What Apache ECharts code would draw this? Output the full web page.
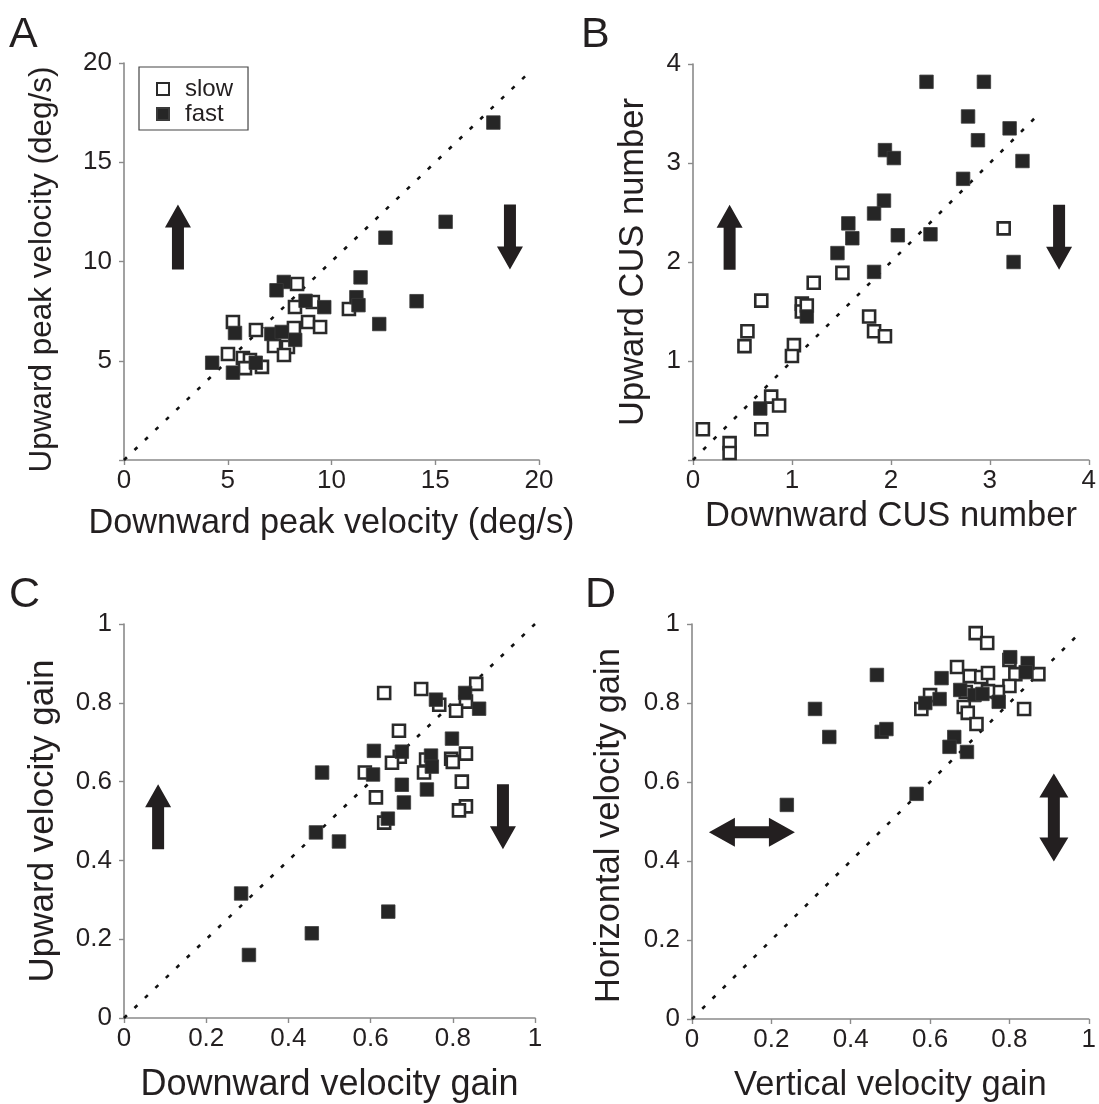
<!DOCTYPE html>
<html>
<head>
<meta charset="utf-8">
<script src="https://cdn.jsdelivr.net/npm/echarts@6/dist/echarts.min.js"></script>
<style>
html,body{margin:0;padding:0;background:#fff;}
#c{width:1099px;height:1104px;}
</style>
</head>
<body>
<div id="c"></div>
<script>
// ---------- DATA ----------
const aSlow = [[8.34,8.87],[9.1,7.96],[8.24,7.71],[10.84,7.61],[8.87,6.95],[9.45,6.70],[5.25,6.95],[6.36,6.55],[8.19,6.65],[7.23,5.74],[7.9,5.69],[7.71,5.29],[5.01,5.34],[5.73,5.14],[6.07,5.04],[5.83,4.63],[6.65,4.69]];
const aFast = [[17.8,17.0],[15.5,12.0],[12.6,11.2],[11.4,9.2],[14.1,8.0],[11.2,8.2],[11.3,7.8],[12.3,6.85],[9.65,7.7],[8.75,8.02],[7.7,8.97],[7.35,8.55],[7.1,6.35],[7.6,6.45],[8.25,6.05],[5.35,6.4],[4.25,4.9],[5.25,4.4],[6.35,4.9]];
const bSlow = [[0.10,0.31],[0.37,0.17],[0.37,0.07],[0.69,0.31],[0.79,0.64],[0.87,0.55],[1.02,1.16],[1.0,1.05],[0.52,1.15],[0.55,1.30],[0.69,1.61],[1.10,1.58],[1.10,1.50],[1.15,1.56],[1.22,1.79],[1.51,1.89],[1.78,1.45],[1.83,1.30],[1.94,1.25],[3.14,2.34]];
const bFast = [[0.68,0.52],[1.15,1.45],[1.83,1.90],[2.36,3.82],[2.94,3.82],[2.78,3.47],[3.20,3.35],[2.88,3.23],[3.33,3.02],[1.94,3.13],[2.03,3.05],[2.73,2.84],[1.93,2.62],[1.83,2.49],[1.57,2.39],[1.61,2.24],[2.07,2.27],[2.40,2.28],[1.46,2.09],[3.24,2.0]];
const cSlow = [[0.633,0.825],[0.723,0.835],[0.767,0.795],[0.857,0.848],[0.832,0.803],[0.808,0.78],[0.669,0.729],[0.671,0.663],[0.652,0.648],[0.735,0.656],[0.73,0.623],[0.796,0.658],[0.80,0.65],[0.832,0.671],[0.586,0.623],[0.822,0.6],[0.613,0.56],[0.832,0.537],[0.815,0.527],[0.633,0.496]];
const cFast = [[0.285,0.316],[0.304,0.16],[0.457,0.215],[0.523,0.448],[0.643,0.27],[0.759,0.808],[0.83,0.825],[0.864,0.785],[0.798,0.709],[0.608,0.678],[0.676,0.676],[0.747,0.666],[0.749,0.638],[0.606,0.618],[0.676,0.592],[0.737,0.58],[0.681,0.547],[0.642,0.506],[0.482,0.623],[0.467,0.471]];
const dSlow = [[0.715,0.977],[0.744,0.952],[0.668,0.891],[0.70,0.868],[0.729,0.866],[0.746,0.876],[0.80,0.909],[0.815,0.873],[0.873,0.873],[0.80,0.843],[0.771,0.828],[0.69,0.828],[0.746,0.83],[0.60,0.82],[0.578,0.785],[0.685,0.79],[0.695,0.775],[0.837,0.785],[0.717,0.747]];
const dFast = [[0.466,0.871],[0.31,0.785],[0.346,0.714],[0.239,0.542],[0.478,0.727],[0.49,0.734],[0.566,0.57],[0.629,0.863],[0.802,0.916],[0.846,0.901],[0.841,0.878],[0.773,0.803],[0.676,0.833],[0.712,0.82],[0.732,0.823],[0.624,0.81],[0.588,0.8],[0.661,0.714],[0.649,0.689],[0.693,0.676]];

const panelLetters = ['A','B','C','D'];
const xTitles = ['Downward peak velocity (deg/s)','Downward CUS number','Downward velocity gain','Vertical velocity gain'];
const yTitles = ['Upward peak velocity (deg/s)','Upward CUS number','Upward velocity gain','Horizontal velocity gain'];
const axisMax = [20, 4, 1, 1];
const axisStep = [5, 1, 0.2, 0.2];
const diagEnd = [19.6, 3.45, 1, 0.98];
// arrow annotations: [panel, x, y, kind]
const arrows = [[0,2.6,11.23,'up'],[0,18.6,11.23,'down'],[1,0.37,2.25,'up'],[1,3.7,2.25,'down'],[2,0.083,0.511,'up'],[2,0.922,0.511,'down'],[3,0.151,0.473,'horiz'],[3,0.912,0.51,'vert']];

// ---------- LAYOUT ----------
const FONT = '"Liberation Sans", Arial, Helvetica, sans-serif';
const TXT = '#231f20';
const AXC = '#8a8a8a';
const grids = [
  {left:124, top:63, width:415, height:397},
  {left:693, top:64, width:402, height:396},
  {left:124, top:624, width:411, height:395},
  {left:692, top:624, width:410, height:395}
];
const yGap = [66, 42, 63, 65];
const xGap = [47, 39, 49, 49];
const xNameSize = [34.3, 34.5, 36, 34.5];
const yNameSize = [31.5, 34.5, 35, 34.5];
const yNamePad = [[0,16,0,0], 0, 0, [0,8,0,0]];
const fmt = (v)=> (Math.round(v*10)/10).toString();

const xAxes = [], yAxes = [], series = [];
for (let i=0;i<4;i++){
  const common = {
    gridIndex:i, type:'value', min:0, max:axisMax[i], interval:axisStep[i],
    splitLine:{show:false},
    axisLine:{lineStyle:{color:AXC,width:1.6}},
    axisTick:{show:true,length:5,inside:false,lineStyle:{color:AXC,width:1.4}},
    axisLabel:{color:TXT,fontSize:26,fontFamily:FONT},
    nameLocation:'middle'
  };
  xAxes.push(Object.assign({}, common, {
    name:xTitles[i], nameGap:xGap[i],
    nameTextStyle:{color:TXT,fontSize:xNameSize[i],fontFamily:FONT},
    axisLabel:Object.assign({}, common.axisLabel, {margin:8, formatter: fmt})
  }));
  yAxes.push(Object.assign({}, common, {
    name:yTitles[i], nameGap:yGap[i],
    nameTextStyle:{color:TXT,fontSize:yNameSize[i],fontFamily:FONT,padding:yNamePad[i]},
    axisLabel:Object.assign({}, common.axisLabel, {margin:12,
      formatter: (v)=> (i<2 && v===0) ? '' : fmt(v)})
  }));
}
const sets = [[aSlow,aFast],[bSlow,bFast],[cSlow,cFast],[dSlow,dFast]];
for (let i=0;i<4;i++){
  series.push({
    type:'line', xAxisIndex:i, yAxisIndex:i, data:[[0,0],[diagEnd[i],diagEnd[i]]],
    symbol:'none', silent:true, z:1,
    lineStyle:{color:'#111',width:2.6,type:[4,10.5]}
  });
  series.push({
    name:'slow', type:'scatter', xAxisIndex:i, yAxisIndex:i, data:sets[i][0],
    symbol:'rect', symbolSize:12, z:3,
    itemStyle:{color:'#ffffff',borderColor:'#2a2a2a',borderWidth:2.6,opacity:1}
  });
  series.push({
    name:'fast', type:'scatter', xAxisIndex:i, yAxisIndex:i, data:sets[i][1],
    symbol:'rect', symbolSize:13.5, z:4,
    itemStyle:{color:'#262626',borderColor:'#3a3a3a',borderWidth:0.8,opacity:1}
  });
}
const arrowPaths = {
  up:   {p:'path://M13,0 L26,23 L19,23 L19,65 L7,65 L7,23 L0,23 Z', s:[26,65]},
  down: {p:'path://M13,65 L26,42 L19,42 L19,0 L7,0 L7,42 L0,42 Z', s:[26,65]},
  horiz:{p:'path://M0,14.5 L26,0 L26,8.5 L60,8.5 L60,0 L86,14.5 L60,29 L60,20.5 L26,20.5 L26,29 Z', s:[86,29]},
  vert: {p:'path://M14.5,0 L29,24 L20.5,24 L20.5,64 L29,64 L14.5,88 L0,64 L8.5,64 L8.5,24 L0,24 Z', s:[29,88]}
};
for (let i=0;i<4;i++){
  arrows.filter(a=>a[0]===i).forEach(a=>{
    series.push({
      type:'scatter', xAxisIndex:i, yAxisIndex:i, silent:true, z:2,
      data:[[a[1],a[2]]], symbol:arrowPaths[a[3]].p, symbolSize:arrowPaths[a[3]].s,
      itemStyle:{color:'#231f20',opacity:1}
    });
  });
}

const letterPos = [[9,14],[581,14],[9,574],[585,574]];
const graphic = panelLetters.map((L,i)=>({
  type:'text', left:letterPos[i][0], top:letterPos[i][1],
  style:{text:L, fill:TXT, font:'43px '+FONT}
}));

const chart = echarts.init(document.getElementById('c'), null, {renderer:'canvas'});
chart.setOption({
  backgroundColor:'#ffffff',
  animation:false,
  grid:grids,
  xAxis:xAxes,
  yAxis:yAxes,
  series:series,
  graphic:graphic,
  legend:{
    data:['slow','fast'], orient:'vertical', left:139, top:67,
    padding:[10,15,4,17], itemGap:1,
    itemWidth:12, itemHeight:12, icon:'rect',
    borderColor:'#444', borderWidth:1.2,
    textStyle:{color:TXT,fontSize:24,fontFamily:FONT,lineHeight:20,padding:[0,0,0,11]},
    selectedMode:false
  }
});
</script>
</body>
</html>
